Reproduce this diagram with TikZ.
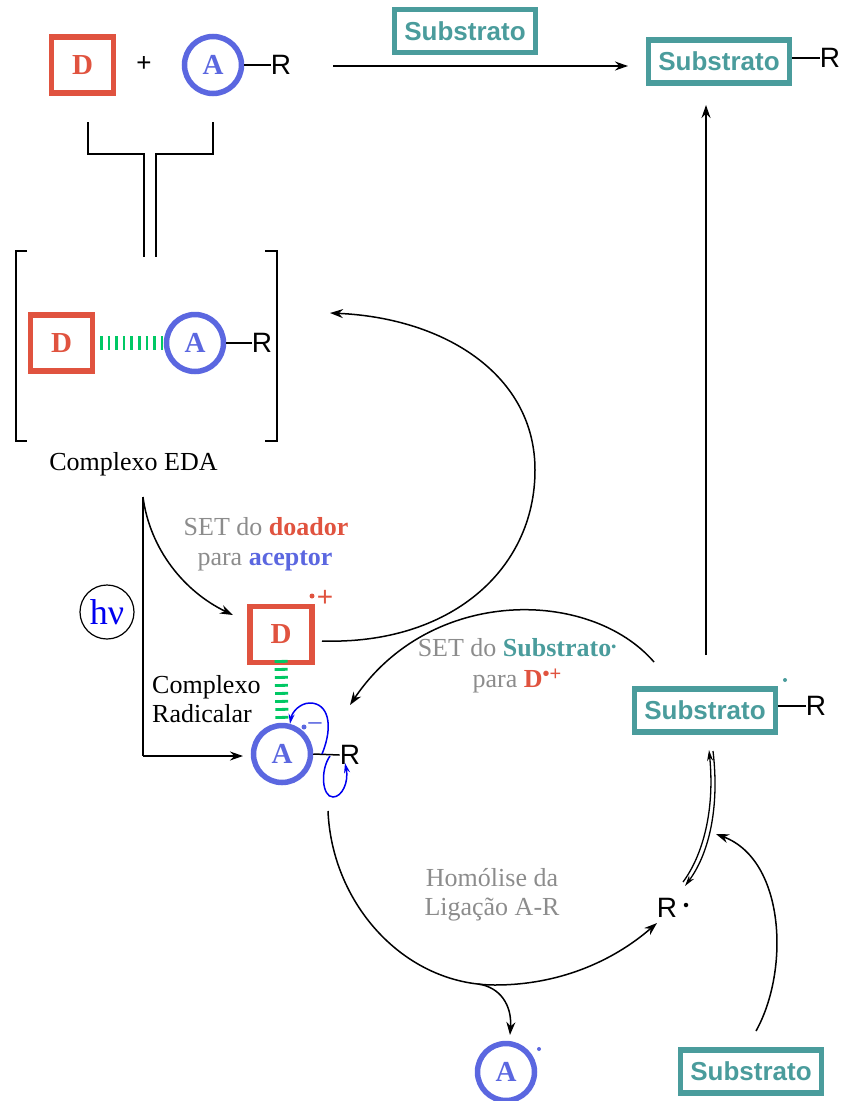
\documentclass[tikz,border=0pt]{standalone}
\usepackage{fontspec}
\setmainfont{Liberation Serif}
\newfontfamily\lsans{Liberation Sans}
\usetikzlibrary{arrows.meta}
\definecolor{cD}{HTML}{E0533F}
\definecolor{cA}{HTML}{5B67E0}
\definecolor{cS}{HTML}{4A9C9C}
\definecolor{cG}{HTML}{00C864}
\definecolor{cT}{HTML}{8C8C8C}
\definecolor{cB}{HTML}{0000F0}
\tikzset{
 x=1pt,y=-1pt,
 donor/.style={draw=cD,line width=5.5pt,minimum width=62pt,minimum height=56pt,inner sep=0,text=cD,font=\fontsize{29}{29}\selectfont\bfseries},
 acceptor/.style={circle,draw=cA,line width=5.5pt,minimum size=57pt,inner sep=0,text=cA,font=\fontsize{29}{29}\selectfont\bfseries},
 subst/.style={draw=cS,line width=5.5pt,minimum width=141pt,minimum height=43pt,inner sep=0,text=cS,font=\lsans\fontsize{26}{26}\selectfont\bfseries},
 atom/.style={font=\lsans\fontsize{28}{28}\selectfont,inner sep=0},
 lab/.style={font=\fontsize{26}{29}\selectfont,inner sep=0,text=black},
 grey/.style={font=\fontsize{26}{29}\selectfont,inner sep=0,text=cT},
 bond/.style={line width=1.5pt},
 con/.style={line width=1.5pt,-{Stealth[length=13pt,width=9pt]}},
 plain/.style={line width=1.5pt},
 dbl/.style={line width=1.8pt},
 link/.style={draw=cG,line width=14pt,dash pattern=on 2.6pt off 5pt},
 curly/.style={draw=cB,line width=1.5pt,-{Stealth[length=10pt,width=6pt]}},
 rad/.style={circle,fill=#1,inner sep=0,minimum size=5pt},
}
\begin{document}
\begin{tikzpicture}
\useasboundingbox (0,0) rectangle (842,1101);
% top reagents
\node[donor] (d1) at (82.5,65) {D};
\node[lab,font=\lsans\fontsize{26}{26}\selectfont] (plus) at (144,64) {+};
\node[acceptor] (a1) at (213,65) {A};
\node[atom] (r1) at (281,65) {R};
\draw[bond] (a1.east) -- (r1.west);
\coordinate (b1) at (88,122); \coordinate (b2) at (88,154); \coordinate (b3) at (144,154); \coordinate (b4) at (144,257);
\coordinate (b5) at (213,122); \coordinate (b6) at (213,154); \coordinate (b7) at (156,154); \coordinate (b8) at (156,257);
\draw[dbl] (b1) -- (b2) -- (b3) -- (b4);
\draw[dbl] (b5) -- (b6) -- (b7) -- (b8);
% EDA complex
\coordinate (bl1) at (27,251); \coordinate (bl2) at (16,251); \coordinate (bl3) at (16,441); \coordinate (bl4) at (27,441);
\coordinate (br1) at (265,251); \coordinate (br2) at (277,251); \coordinate (br3) at (277,441); \coordinate (br4) at (265,441);
\draw[plain] (bl1) -- (bl2) -- (bl3) -- (bl4);
\draw[plain] (br1) -- (br2) -- (br3) -- (br4);
\node[donor] (d2) at (61.5,343) {D};
\node[acceptor] (a2) at (195,343) {A};
\node[atom] (r2) at (262,343) {R};
\draw[bond] (a2.east) -- (r2.west);
\coordinate (l1) at (100,343);
\draw[link] (l1) -- (a2.west);
\node[lab] (eda) at (133.5,464) {Complexo EDA};
\coordinate (eda1) at (143,497);
% hv
\node[circle,draw,line width=1.2pt,minimum size=54pt,inner sep=0,text=cB,font=\fontsize{36}{36}\selectfont] (hv) at (107,612) {hν};
% SET labels
\node[grey] (s1) at (266,527) {SET do \textcolor{cD}{\bfseries doador}};
\node[grey] (s2) at (265,561) {para \textcolor{cA}{\bfseries aceptor}};
% radical complex
\node[donor] (d3) at (281,634.5) {D};
\node[rad=cD] (dd3) at (312,596) {};
\node[font=\lsans\fontsize{28}{28}\selectfont,text=cD,inner sep=0] (dp3) at (325,598) {+};
\node[acceptor] (a3) at (282,754) {A};
\node[atom] (r3) at (350,755) {R};
\draw[bond] (a3.east) -- (r3.west);
\coordinate (l2) at (281,660);
\draw[link,line width=13pt,dash pattern=on 2.8pt off 5.2pt] (l2) -- (a3.north);
\node[rad=cA] (da3) at (304,727) {};
\node[font=\lsans\fontsize{24}{24}\selectfont,text=cA,inner sep=0] (dm3) at (315,726) {–};
\node[lab,align=left,anchor=west] (cr) at (152,699.5) {Complexo\\Radicalar};
\coordinate (c1) at (322,754); \coordinate (c2) at (290,724);
\draw[curly] (c1) .. controls (334,725) and (328,703) .. (310,703) .. controls (300,703) and (292,712) .. (c2);
\coordinate (c3) at (330,756); \coordinate (c4) at (345,763);
\draw[curly] (c3) .. controls (320,770) and (322,797) .. (333,797) .. controls (342,797) and (349,782) .. (c4);
% connectors left
\coordinate (v1) at (143,756);
\coordinate (v2) at (243,756);
\coordinate (v3) at (233,615);
\draw[plain] (eda1) -- (v1);
\draw[con] (v1) -- (v2);
\draw[con] (eda1) .. controls (150,550) and (185,592) .. (v3);
% big arc to complex
\coordinate (g1) at (322,641); \coordinate (g2) at (535,470); \coordinate (g3) at (330,313);
\draw[con] (g1) .. controls (450,645) and (535,570) .. (g2) .. controls (535,375) and (445,318) .. (g3);
% SET arc
\node[grey] (s3) at (517,648) {SET do \textcolor{cS}{\bfseries Substrato}\raisebox{5pt}{\textcolor{cS}{\bfseries\fontsize{14}{14}\selectfont•}}};
\node[grey] (s4) at (517,681) {para \textcolor{cD}{\bfseries D}\raisebox{7pt}{\textcolor{cD}{\lsans\fontsize{20}{20}\selectfont •+}}};
\coordinate (h1) at (654,662); \coordinate (h2) at (350,705);
\draw[con] (h1) .. controls (590,588) and (430,586) .. (h2);
% lower arc
\node[grey] (s5) at (492,878) {Homólise da};
\node[grey] (s6) at (492,910) {Ligação A-R};
\coordinate (k1) at (328,811); \coordinate (k2) at (495,985); \coordinate (k3) at (657,923);
\draw[con] (k1) .. controls (332,905) and (405,985) .. (k2) .. controls (558,985) and (612,962) .. (k3);
\node[acceptor] (a4) at (506,1072) {A};
\node[rad=cA,minimum size=4pt] (da4) at (539,1049) {};
\coordinate (k4) at (478,984); \coordinate (k5) at (510,1035);
\draw[con] (k4) .. controls (500,987) and (512,1005) .. (k5);
\node[atom] (r4) at (667,908) {R};
\node[circle,fill=black,inner sep=0,minimum size=4.5pt] (dr4) at (686,905) {};
% substrates
\node[subst] (s10) at (465,31) {Substrato\hspace{6pt}};
\node[subst] (s11) at (719,61.5) {Substrato\hspace{6pt}};
\node[atom] (r11) at (830,58) {R};
\draw[bond] (s11.east |- r11.west) -- (r11.west);
\node[subst] (s12) at (705,710.5) {Substrato\hspace{6pt}};
\node[rad=cS,minimum size=4pt] (ds12) at (785,680) {};
\node[atom] (r12) at (816,706) {R};
\draw[bond] (s12.east |- r12.west) -- (r12.west);
\node[subst] (s13) at (751,1071.5) {Substrato\hspace{6pt}};
\coordinate (t1) at (333,66); \coordinate (t2) at (628,66);
\draw[con] (t1) -- (t2);
\coordinate (u1) at (706,655); \coordinate (u2) at (706,105);
\draw[con] (u1) -- (u2);
% equilibrium
\coordinate (e1) at (683,882); \coordinate (e2) at (709,750); \coordinate (e3) at (713,751); \coordinate (e4) at (685,886);
\draw[line width=1.3pt,-{Stealth[length=11pt,width=6pt]}] (e1) .. controls (703,855) and (715,810) .. (e2);
\draw[line width=1.3pt,-{Stealth[length=11pt,width=6pt]}] (e3) .. controls (720,810) and (708,855) .. (e4);
\coordinate (f1) at (756,1031); \coordinate (f2) at (716,834);
\draw[con] (f1) .. controls (790,970) and (785,860) .. (f2);
\end{tikzpicture}
\end{document}
